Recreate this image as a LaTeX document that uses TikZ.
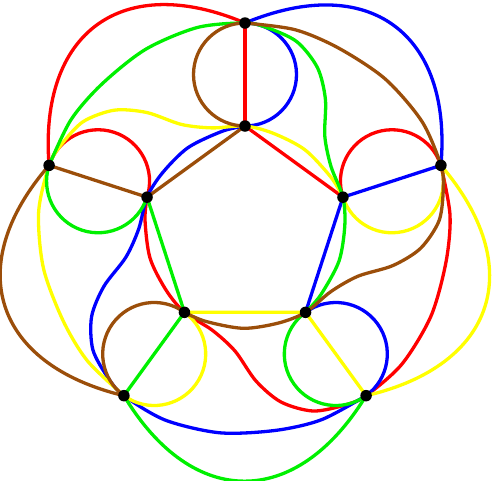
\documentclass[tikz,border=0pt]{standalone}
\definecolor{cred}{RGB}{255,0,0}
\definecolor{cblue}{RGB}{0,0,255}
\definecolor{cyellow}{RGB}{255,255,0}
\definecolor{cgreen}{RGB}{0,240,0}
\definecolor{cbrown}{RGB}{155,78,10}
\tikzset{
  edge/.style={line width=3.3pt, line cap=round, line join=round},
  vertex/.style={circle, fill=black, inner sep=0pt, minimum size=11.5pt}
}
\begin{document}
\begin{tikzpicture}[x=1pt,y=-1pt]
\useasboundingbox (0,0) rectangle (494,480);
% vertices: centre (245,229), outer radius 206, inner radius 103
\foreach \j in {1,...,5}{
  \coordinate (O\j) at ({245+206*sin(72*(\j-1))},{229-206*cos(72*(\j-1))});
  \coordinate (I\j) at ({245+103*sin(72*(\j-1))},{229-103*cos(72*(\j-1))});
}
\foreach \k/\col in {0/cred,1/cblue,2/cyellow,3/cgreen,4/cbrown}{
  \pgfmathtruncatemacro\oa{mod(0+\k,5)+1}
  \pgfmathtruncatemacro\ob{mod(1+\k,5)+1}
  \pgfmathtruncatemacro\oc{mod(2+\k,5)+1}
  \pgfmathtruncatemacro\oe{mod(4+\k,5)+1}
  \pgfmathtruncatemacro\ia{mod(0+\k,5)+1}
  \pgfmathtruncatemacro\ib{mod(1+\k,5)+1}
  \pgfmathtruncatemacro\id{mod(3+\k,5)+1}
  \pgfmathtruncatemacro\ie{mod(4+\k,5)+1}
  \begin{scope}[rotate around={-72*\k:(245,229)}, edge, draw=\col]
    \draw (O\oa) -- (I\ia);
    \draw (I\ia) -- (I\ib);
    \draw (O\oe) arc[start angle=198, end angle=378, radius=51.5];
    \draw (O\ob) arc[start angle=342, end angle=162, radius=51.5];
    \draw (O\oa) .. controls (122.6,-28.9) and (38.5,32) .. (O\oe);
    \draw plot[smooth] coordinates {(I\ie) (145,220) (150,258) (166,290) (I\id) (212,330) (235,351) (256,381) (281,402) (313,411) (345,405) (O\oc) (402,364) (431,316) (446,262) (450,215) (O\ob)};
  \end{scope}
}
\foreach \j in {1,...,5}{
  \node[vertex] (vO\j) at (O\j) {};
  \node[vertex] (vI\j) at (I\j) {};
}
\end{tikzpicture}
\end{document}
